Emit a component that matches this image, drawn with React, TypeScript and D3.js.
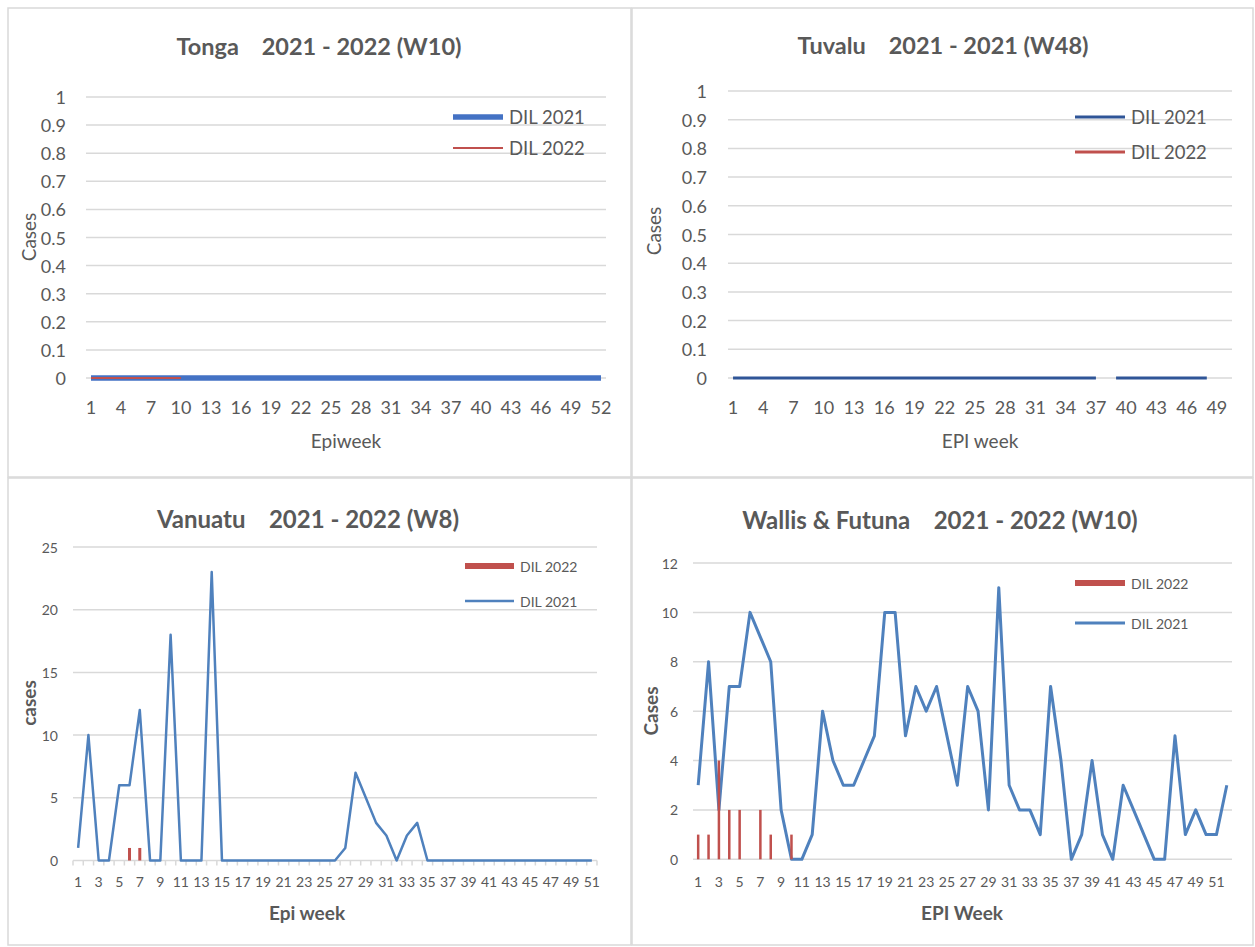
import React from "react";
import * as d3 from "d3";

// ---------- DATA ----------
const tongaWeeks = d3.range(1, 53);
const tongaTickLabels = [1, 4, 7, 10, 13, 16, 19, 22, 25, 28, 31, 34, 37, 40, 43, 46, 49, 52];
const tonga2021 = [0,0,0,0,0,0,0,0,0,0,0,0,0,0,0,0,0,0,0,0,0,0,0,0,0,0,0,0,0,0,0,0,0,0,0,0,0,0,0,0,0,0,0,0,0,0,0,0,0,0,0,0];
const tonga2022 = [0,0,0,0,0,0,0,0,0,0];

const tuvaluWeeks = d3.range(1, 51);
const tuvaluTickLabels = [1, 4, 7, 10, 13, 16, 19, 22, 25, 28, 31, 34, 37, 40, 43, 46, 49];
const tuvalu2021: (number | null)[] = [0,0,0,0,0,0,0,0,0,0,0,0,0,0,0,0,0,0,0,0,0,0,0,0,0,0,0,0,0,0,0,0,0,0,0,0,0,null,0,0,0,0,0,0,0,0,0,0];
const tuvalu2022: number[] = [];

const vanuatuWeeks = d3.range(1, 52);
const vanuatuTickLabels = [1,3,5,7,9,11,13,15,17,19,21,23,25,27,29,31,33,35,37,39,41,43,45,47,49,51];
const vanuatu2021 = [1,10,0,0,6,6,12,0,0,18,0,0,0,23,0,0,0,0,0,0,0,0,0,0,0,0,1,7,5,3,2,0,2,3,0,0,0,0,0,0,0,0,0,0,0,0,0,0,0,0,0];
const vanuatu2022 = [0,0,0,0,0,1,1,0];

const wallisWeeks = d3.range(1, 53);
const wallisTickLabels = [1,3,5,7,9,11,13,15,17,19,21,23,25,27,29,31,33,35,37,39,41,43,45,47,49,51];
const wallis2021 = [3,8,2,7,7,10,9,8,2,0,0,1,6,4,3,3,4,5,10,10,5,7,6,7,5,3,7,6,2,11,3,2,2,1,7,4,0,1,4,1,0,3,2,1,0,0,5,1,2,1,1,3];
const wallis2022 = [1,1,4,2,2,0,2,1,0,1];

const topYTicks = [0, 0.1, 0.2, 0.3, 0.4, 0.5, 0.6, 0.7, 0.8, 0.9, 1];
const vanuatuYTicks = [0, 5, 10, 15, 20, 25];
const wallisYTicks = [0, 2, 4, 6, 8, 10, 12];

// ---------- STYLE ----------
const FONT = "Lato, 'Open Sans', sans-serif";
const TEXT = "#595959";
const GRID = "#d9d9d9";
const BLUE = "#4f81bd";
const BLUE_T = "#4472c4";
const DARK_BLUE = "#2f5597";
const RED = "#c0504d";

type LineSpec = { values: (number | null)[]; color: string; width: number };
type BarSpec = { values: number[]; color: string; width: number };
type LegendSpec = { label: string; color: string; width: number; y: number };

type PanelCfg = {
  box: [number, number, number, number];
  title: string; titleX: number; titleY: number; titleSize: number;
  left: number; right: number; yTopPx: number; y0Px: number;
  yMax: number; yTicks: number[]; yLabelX: number; tickSize: number;
  weeks: number[]; xLabels: number[]; xLabelY: number;
  xTitle: string; xTitleX: number; xTitleY: number; xTitleBold: boolean; xTitleSize: number;
  yTitle: string; yTitleX: number; yTitleY: number; yTitleBold: boolean; yTitleSize: number;
  axisTicks: boolean;
  lines: LineSpec[]; bars: BarSpec[]; barsOnTop: boolean;
  legend: LegendSpec[]; legendX1: number; legendX2: number; legendTextX: number; legendSize: number;
};

function Panel({ c }: { c: PanelCfg }) {
  const x = d3.scaleBand<number>().domain(c.weeks).range([c.left, c.right]).padding(0);
  const cx = (w: number) => (x(w) as number) + x.bandwidth() / 2;
  const y = d3.scaleLinear().domain([0, c.yMax]).range([c.y0Px, c.yTopPx]);
  const fmt = (v: number) => (c.yMax <= 1 ? d3.format("~g")(v) : String(v));

  const lineEls = c.lines.map((l, i) => {
    const gen = d3
      .line<number | null>()
      .defined((d) => d !== null)
      .x((_, j) => cx(c.weeks[j]))
      .y((d) => y(d as number));
    return (
      <path key={"l" + i} d={gen(l.values) || ""} fill="none" stroke={l.color}
        strokeWidth={l.width} strokeLinejoin="round" strokeLinecap="butt" />
    );
  });
  const barEls = c.bars.map((b, i) => (
    <g key={"b" + i}>
      {b.values.map((v, j) =>
        v > 0 ? (
          <rect key={j} x={cx(c.weeks[j]) - b.width / 2} y={y(v)} width={b.width}
            height={y(0) - y(v)} fill={b.color} />
        ) : null
      )}
    </g>
  ));

  const [bx, by, bw, bh] = c.box;
  return (
    <g>
      <rect x={bx} y={by} width={bw} height={bh} fill="#fff" stroke={GRID} strokeWidth={1.5} />
      <text x={c.titleX} y={c.titleY} textAnchor="middle" dominantBaseline="central"
        fontFamily={FONT} fontWeight="bold" fontSize={c.titleSize} fill={TEXT}>
        {c.title}
      </text>
      {c.yTicks.map((t) => (
        <g key={t}>
          <line x1={c.left} x2={c.right} y1={y(t)} y2={y(t)} stroke={GRID} strokeWidth={1.5} />
          <text x={c.yLabelX} y={y(t)} textAnchor="end" dominantBaseline="central"
            fontFamily={FONT} fontSize={c.tickSize} fill={TEXT}>
            {fmt(t)}
          </text>
        </g>
      ))}
      {c.axisTicks &&
        c.weeks.concat([c.weeks[c.weeks.length - 1] + 1]).map((w, i) => {
          const px = i < c.weeks.length ? (x(w) as number) : c.right;
          return <line key={"t" + i} x1={px} x2={px} y1={y(0)} y2={y(0) + 5} stroke={GRID} strokeWidth={1.5} />;
        })}
      {c.xLabels.map((w) => (
        <text key={"x" + w} x={cx(w)} y={c.xLabelY} textAnchor="middle" dominantBaseline="central"
          fontFamily={FONT} fontSize={c.tickSize} fill={TEXT}>
          {w}
        </text>
      ))}
      <text x={c.xTitleX} y={c.xTitleY} textAnchor="middle" dominantBaseline="central"
        fontFamily={FONT} fontWeight={c.xTitleBold ? "bold" : "normal"} fontSize={c.xTitleSize} fill={TEXT}>
        {c.xTitle}
      </text>
      <text transform={`translate(${c.yTitleX},${c.yTitleY}) rotate(-90)`} textAnchor="middle"
        dominantBaseline="central" fontFamily={FONT} fontWeight={c.yTitleBold ? "bold" : "normal"}
        fontSize={c.yTitleSize} fill={TEXT}>
        {c.yTitle}
      </text>
      {!c.barsOnTop && barEls}
      {lineEls}
      {c.barsOnTop && barEls}
      {c.legend.map((l) => (
        <g key={l.label}>
          <line x1={c.legendX1} x2={c.legendX2} y1={l.y} y2={l.y} stroke={l.color} strokeWidth={l.width} />
          <text x={c.legendTextX} y={l.y} dominantBaseline="central" fontFamily={FONT}
            fontSize={c.legendSize} fill={TEXT}>
            {l.label}
          </text>
        </g>
      ))}
    </g>
  );
}

const panels: PanelCfg[] = [
  {
    box: [8, 8, 623, 469],
    title: "Tonga\u00a0\u00a0\u00a0 2021 - 2022 (W10)", titleX: 319, titleY: 46, titleSize: 23.5,
    left: 86, right: 606, yTopPx: 97, y0Px: 378, yMax: 1, yTicks: topYTicks, yLabelX: 66, tickSize: 18,
    weeks: tongaWeeks, xLabels: tongaTickLabels, xLabelY: 407,
    xTitle: "Epiweek", xTitleX: 346, xTitleY: 440, xTitleBold: false, xTitleSize: 19,
    yTitle: "Cases", yTitleX: 28, yTitleY: 237, yTitleBold: false, yTitleSize: 19,
    axisTicks: false,
    lines: [
      { values: tonga2021, color: BLUE_T, width: 5.5 },
      { values: tonga2022, color: RED, width: 2 },
    ],
    bars: [], barsOnTop: false,
    legend: [
      { label: "DIL 2021", color: BLUE_T, width: 5.5, y: 117 },
      { label: "DIL 2022", color: RED, width: 2, y: 148 },
    ],
    legendX1: 453, legendX2: 503, legendTextX: 509, legendSize: 18.5,
  },
  {
    box: [632, 8, 621, 469],
    title: "Tuvalu\u00a0\u00a0\u00a0 2021 - 2021 (W48)", titleX: 943, titleY: 45, titleSize: 23.5,
    left: 728, right: 1232, yTopPx: 91, y0Px: 378, yMax: 1, yTicks: topYTicks, yLabelX: 707, tickSize: 18,
    weeks: tuvaluWeeks, xLabels: tuvaluTickLabels, xLabelY: 407,
    xTitle: "EPI week", xTitleX: 980, xTitleY: 440, xTitleBold: false, xTitleSize: 19,
    yTitle: "Cases", yTitleX: 653, yTitleY: 231, yTitleBold: false, yTitleSize: 19,
    axisTicks: false,
    lines: [
      { values: tuvalu2021, color: DARK_BLUE, width: 3 },
      { values: tuvalu2022, color: RED, width: 3 },
    ],
    bars: [], barsOnTop: false,
    legend: [
      { label: "DIL 2021", color: DARK_BLUE, width: 3, y: 117 },
      { label: "DIL 2022", color: RED, width: 3, y: 152 },
    ],
    legendX1: 1075, legendX2: 1125, legendTextX: 1131, legendSize: 18.5,
  },
  {
    box: [8, 478, 623, 467],
    title: "Vanuatu\u00a0\u00a0\u00a0 2021 - 2022 (W8)", titleX: 308, titleY: 518, titleSize: 24,
    left: 73, right: 597, yTopPx: 547, y0Px: 860.5, yMax: 25, yTicks: vanuatuYTicks, yLabelX: 58, tickSize: 14,
    weeks: vanuatuWeeks, xLabels: vanuatuTickLabels, xLabelY: 881,
    xTitle: "Epi week", xTitleX: 307, xTitleY: 912, xTitleBold: true, xTitleSize: 19,
    yTitle: "cases", yTitleX: 28, yTitleY: 703, yTitleBold: true, yTitleSize: 19,
    axisTicks: true,
    lines: [{ values: vanuatu2021, color: BLUE, width: 2.5 }],
    bars: [{ values: vanuatu2022, color: RED, width: 3 }], barsOnTop: false,
    legend: [
      { label: "DIL 2022", color: RED, width: 6, y: 566 },
      { label: "DIL 2021", color: BLUE, width: 2.5, y: 601 },
    ],
    legendX1: 465, legendX2: 514, legendTextX: 520, legendSize: 14,
  },
  {
    box: [632, 478, 621, 467],
    title: "Wallis & Futuna\u00a0\u00a0\u00a0 2021 - 2022 (W10)", titleX: 940, titleY: 519, titleSize: 24,
    left: 693, right: 1232, yTopPx: 563, y0Px: 859.3, yMax: 12, yTicks: wallisYTicks, yLabelX: 678, tickSize: 14,
    weeks: wallisWeeks, xLabels: wallisTickLabels, xLabelY: 881,
    xTitle: "EPI Week", xTitleX: 962, xTitleY: 912, xTitleBold: true, xTitleSize: 19,
    yTitle: "Cases", yTitleX: 650, yTitleY: 711, yTitleBold: true, yTitleSize: 19,
    axisTicks: false,
    lines: [{ values: wallis2021, color: BLUE, width: 3 }],
    bars: [{ values: wallis2022, color: RED, width: 2.5 }], barsOnTop: true,
    legend: [
      { label: "DIL 2022", color: RED, width: 6, y: 583 },
      { label: "DIL 2021", color: BLUE, width: 3, y: 623 },
    ],
    legendX1: 1075, legendX2: 1125, legendTextX: 1131, legendSize: 14,
  },
];

export default function App() {
  return (
    <svg width={1255} height={947} style={{ position: "absolute", left: 0, top: 0, background: "#fff" }}>
      <rect x={0} y={0} width={1255} height={947} fill="#fff" />
      {panels.map((p, i) => (
        <Panel key={i} c={p} />
      ))}
    </svg>
  );
}
